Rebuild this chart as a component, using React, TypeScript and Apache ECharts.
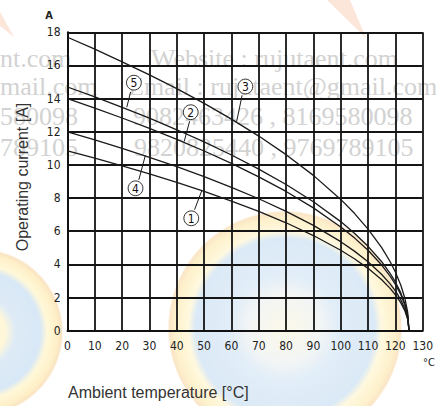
import React, { useEffect, useRef } from "react";
import * as echarts from "echarts";

// Ambient temperature sample points (°C)
const temps = [0, 10, 20, 30, 40, 50, 60, 70, 80, 90, 100, 105, 110, 115, 118, 120, 122, 123.5, 124.5, 125];
// Operating current (A), one list per curve
const curve3 = [17.7, 16.98, 16.22, 15.43, 14.6, 13.71, 12.76, 11.74, 10.62, 9.37, 7.92, 7.08, 6.13, 5.01, 4.19, 3.54, 2.74, 1.94, 1.12, 0];
const curve5 = [14.7, 14.1, 13.47, 12.82, 12.12, 11.39, 10.6, 9.75, 8.82, 7.78, 6.58, 5.88, 5.09, 4.16, 3.48, 2.94, 2.28, 1.61, 0.93, 0];
const curve2 = [14.0, 13.43, 12.83, 12.2, 11.54, 10.84, 10.09, 9.28, 8.4, 7.41, 6.26, 5.6, 4.85, 3.96, 3.31, 2.8, 2.17, 1.53, 0.89, 0];
const curve4 = [12.0, 11.51, 11.0, 10.46, 9.9, 9.3, 8.65, 7.96, 7.2, 6.35, 5.37, 4.8, 4.16, 3.39, 2.84, 2.4, 1.86, 1.31, 0.76, 0];
const curve1 = [10.85, 10.41, 9.94, 9.46, 8.95, 8.4, 7.82, 7.2, 6.51, 5.74, 4.85, 4.34, 3.76, 3.07, 2.57, 2.17, 1.68, 1.19, 0.69, 0];

const curveNames = ["①", "②", "③", "④", "⑤"];
const curveValues = [curve1, curve2, curve3, curve4, curve5];

// axis range / ticks
const xMin = 0, xMax = 130, xStep = 10;
const yMin = 0, yMax = 18, yStep = 2;

// callout anchors in data coordinates: label centre, leader start, leader end
const callouts = [
  { text: "⑤", at: [24.3, 14.96], from: [23.1, 14.4], to: [21.7, 13.48] },
  { text: "②", at: [45.1, 13.18], from: [44.7, 12.64], to: [42.7, 11.41] },
  { text: "③", at: [65.1, 14.73], from: [63.9, 14.2], to: [61.9, 12.61] },
  { text: "④", at: [24.9, 8.59], from: [26.1, 9.1], to: [28.5, 10.58] },
  { text: "①", at: [45.3, 6.78], from: [46.5, 7.3], to: [49.2, 8.47] },
];

const watermarkRows = [
  { text: "Website : rujutaent.com", x: 151, y: 58, part: "nt.com" },
  { text: "Email : rujutaent@gmail.com", x: 128, y: 86, part: "mail.com" },
  { text: "9082463426 , 8169580098", x: 133, y: 116, part: "580098" },
  { text: "9820825440 , 9769789105", x: 134, y: 147, part: "789105" },
];

const tickFont = "'Liberation Sans Narrow','DejaVu Sans Condensed','Roboto Condensed',Roboto,sans-serif";
const titleFont = "'Liberation Sans',Arial,sans-serif";
const wmFont = "'Liberation Serif','DejaVu Serif',serif";

export default function App() {
  const ref = useRef<HTMLDivElement>(null);
  useEffect(() => {
    const chart = echarts.init(ref.current!, null, { renderer: "svg" });
    chart.setOption({
      animation: false,
      backgroundColor: "#ffffff",
      grid: { left: 67.5, right: 8, top: 32.3, bottom: 75.3 },
      xAxis: {
        type: "value",
        min: xMin,
        max: xMax,
        interval: xStep,
        axisLine: { show: true, lineStyle: { color: "#111", width: 2 } },
        axisTick: { show: false },
        axisLabel: { color: "#222", fontSize: 12, fontFamily: tickFont, margin: 9 },
        splitLine: { show: true, lineStyle: { color: "#151515", width: 1.8 } },
      },
      yAxis: {
        type: "value",
        min: yMin,
        max: yMax,
        interval: yStep,
        axisLine: { show: true, lineStyle: { color: "#111", width: 2 } },
        axisTick: { show: false },
        axisLabel: { color: "#222", fontSize: 12, fontFamily: tickFont, margin: 7 },
        splitLine: { show: true, lineStyle: { color: "#151515", width: 1.8 } },
      },
      series: curveValues.map((vals, i) => ({
        name: curveNames[i],
        type: "line",
        data: temps.map((t, j) => [t, vals[j]]),
        smooth: false,
        symbol: "none",
        z: 5,
        lineStyle: { color: "#1a1a1a", width: 1.3 },
      })),
    });

    const px = (p: number[]) => chart.convertToPixel({ gridIndex: 0 }, p) as number[];

    const logoGrad = (stops: [number, string][]) =>
      new echarts.graphic.RadialGradient(0.5, 0.5, 0.5, stops.map(([offset, color]) => ({ offset, color })));

    const graphics: any[] = [
      {
        type: "circle",
        z: -20,
        silent: true,
        shape: { cx: -20, cy: 332, r: 84 },
        style: {
          opacity: 0.7,
          fill: logoGrad([
            [0, "rgba(255,245,205,1)"],
            [0.3, "rgba(255,244,200,1)"],
            [0.42, "rgba(208,226,243,1)"],
            [0.72, "rgba(200,222,242,1)"],
            [0.8, "rgba(255,245,200,1)"],
            [0.92, "rgba(253,234,176,1)"],
            [0.97, "rgba(247,212,160,0.9)"],
            [1, "rgba(255,255,255,0)"],
          ]),
        },
      },
      {
        type: "circle",
        z: -20,
        silent: true,
        shape: { cx: 285, cy: 328, r: 118 },
        style: {
          opacity: 0.65,
          fill: logoGrad([
            [0, "rgba(250,245,220,1)"],
            [0.3, "rgba(236,240,240,1)"],
            [0.45, "rgba(210,228,244,1)"],
            [0.76, "rgba(200,222,242,1)"],
            [0.82, "rgba(255,245,205,1)"],
            [0.93, "rgba(253,234,176,1)"],
            [0.98, "rgba(247,212,160,0.9)"],
            [1, "rgba(255,255,255,0)"],
          ]),
        },
      },
      {
        type: "polygon",
        z: -20,
        silent: true,
        shape: { points: [[327, 0], [350, 0], [366, 38]] },
        style: { fill: "rgba(246,200,170,0.45)" },
      },
      {
        type: "polygon",
        z: -20,
        silent: true,
        shape: { points: [[0, 12], [0, 26], [14, 37]] },
        style: { fill: "rgba(246,200,170,0.45)" },
      },
    ];

    watermarkRows.forEach((r) => {
      graphics.push({
        type: "text",
        z: -10,
        silent: true,
        x: r.x,
        y: r.y,
        style: {
          text: r.text,
          fill: "#d2d2d2",
          fontSize: 26,
          fontFamily: wmFont,
          align: "left",
          verticalAlign: "middle",
        },
      });
      graphics.push({
        type: "text",
        z: -10,
        silent: true,
        x: 0,
        y: r.y,
        style: {
          text: r.part,
          fill: "#d2d2d2",
          fontSize: 26,
          fontFamily: wmFont,
          align: "left",
          verticalAlign: "middle",
        },
      });
    });

    callouts.forEach((c) => {
      const a = px(c.at);
      const f = px(c.from);
      const t = px(c.to);
      graphics.push({
        type: "line",
        z: 50,
        silent: true,
        shape: { x1: f[0], y1: f[1], x2: t[0], y2: t[1] },
        style: { stroke: "#1a1a1a", lineWidth: 1 },
      });
      graphics.push({
        type: "circle",
        z: 50,
        silent: true,
        shape: { cx: a[0], cy: a[1], r: 7.4 },
        style: { fill: "#ffffff", stroke: "#1a1a1a", lineWidth: 0.9 },
      });
      graphics.push({
        type: "text",
        z: 51,
        silent: true,
        x: a[0],
        y: a[1] + 0.5,
        style: {
          text: String(curveNames.indexOf(c.text) + 1),
          fill: "#111",
          fontSize: 12,
          fontFamily: tickFont,
          align: "center",
          verticalAlign: "middle",
        },
      });
    });

    graphics.push(
      {
        type: "text",
        z: 60,
        x: 49,
        y: 15,
        style: { text: "A", fill: "#222", fontSize: 11, fontWeight: "bold", fontFamily: tickFont, align: "center", verticalAlign: "middle" },
      },
      {
        type: "text",
        z: 60,
        x: 423,
        y: 362,
        style: { text: "°C", fill: "#222", fontSize: 11, fontFamily: tickFont, align: "left", verticalAlign: "middle" },
      },
      {
        type: "text",
        z: 60,
        x: 22,
        y: 177,
        rotation: Math.PI / 2,
        style: { text: "Operating current [A]", fill: "#333", fontSize: 16, fontFamily: titleFont, align: "center", verticalAlign: "middle" },
      },
      {
        type: "text",
        z: 60,
        x: 68,
        y: 392,
        style: { text: "Ambient temperature [°C]", fill: "#333", fontSize: 16, fontFamily: titleFont, align: "left", verticalAlign: "middle" },
      }
    );

    chart.setOption({ graphic: graphics });
    return () => chart.dispose();
  }, []);
  return <div ref={ref} style={{ position: "fixed", left: 0, top: 0, width: 436, height: 406 }} />;
}
